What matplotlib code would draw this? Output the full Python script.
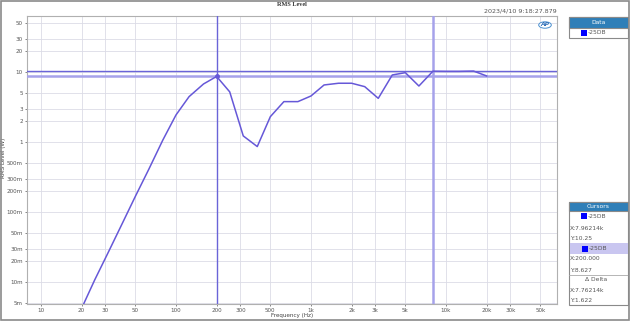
import matplotlib
matplotlib.use("Agg")
import matplotlib.pyplot as plt
from matplotlib.patches import Rectangle, Circle
from matplotlib.ticker import FixedLocator, NullLocator

# third-octave points of the -25DB trace
freq = [20, 25, 31.5, 40, 50, 63, 80, 100, 125, 160, 200, 250, 315, 400, 500,
        630, 800, 1000, 1250, 1600, 2000, 2500, 3150, 4000, 5000, 6300, 8000,
        10000, 12500, 16000, 20000]
power = [0.0042, 0.0107, 0.0265, 0.0685, 0.167, 0.41, 1.07, 2.43, 4.44, 6.74,
         8.627, 5.2, 1.22, 0.86, 2.3, 3.77, 3.77, 4.54, 6.52, 6.9, 6.9, 6.17,
         4.2, 9.06, 9.77, 6.3, 10.25, 10.2, 10.2, 10.3, 8.77]

xticks = [10, 20, 30, 50, 100, 200, 300, 500, 1000, 2000, 3000, 5000,
          10000, 20000, 30000, 50000]
xlabels = ["10", "20", "30", "50", "100", "200", "300", "500", "1k", "2k",
           "3k", "5k", "10k", "20k", "30k", "50k"]
yticks = [0.005, 0.01, 0.02, 0.03, 0.05, 0.1, 0.2, 0.3, 0.5, 1, 2, 3, 5,
          10, 20, 30, 50]
ylabels = ["5m", "10m", "20m", "30m", "50m", "100m", "200m", "300m", "500m",
           "1", "2", "3", "5", "10", "20", "30", "50"]

cursor1 = (7962.14, 10.25)
cursor2 = (200.0, 8.627)

W, H = 630, 321
fig = plt.figure(figsize=(W / 100, H / 100), dpi=100)
fig.patch.set_facecolor("white")


def fx(x):
    return x / W


def fy(y):
    return 1 - y / H


FS = 4.1

ax = fig.add_axes([fx(27), fy(304), fx(557) - fx(27), fy(16) - fy(304)])
ax.set_xscale("log")
ax.set_yscale("log")
ax.set_xlim(7.88, 66400)
ax.set_ylim(0.00485, 63)

ax.xaxis.set_major_locator(FixedLocator(xticks))
ax.xaxis.set_minor_locator(NullLocator())
ax.set_xticklabels(xlabels)
ax.yaxis.set_major_locator(FixedLocator(yticks))
ax.yaxis.set_minor_locator(NullLocator())
ax.set_yticklabels(ylabels)
ax.tick_params(labelsize=FS, colors="#555555", length=1.5, width=0.5, pad=1.5)
ax.grid(True, color="#dcdce6", linewidth=0.6)
for s in ax.spines.values():
    s.set_color("#b0b0b0")
    s.set_linewidth(0.8)

# cursors
ax.axvline(cursor2[0], color="#6a64d8", linewidth=1.0, zorder=3)
ax.axvline(cursor1[0], color="#a6a2ea", linewidth=1.8, zorder=3)
ax.axhline(cursor1[1], color="#6a64d8", linewidth=1.0, zorder=3)
ax.axhline(cursor2[1], color="#a6a2ea", linewidth=1.8, zorder=3)

ax.plot(freq, power, color="#6658d8", linewidth=1.1, zorder=4)
ax.plot([cursor2[0]], [cursor2[1]], "o", color="#6658d8", markersize=2.5, zorder=5)

fig.text(fx(292), fy(316), "Frequency (Hz)", fontsize=FS, color="#444444",
         ha="center", va="center")
fig.text(fx(4), fy(158), "RMS Level (W)", fontsize=FS, color="#444444",
         ha="center", va="center", rotation=90)

fig.text(fx(292), fy(4.5), "RMS Level", fontsize=4.5, fontweight="bold",
         family="Liberation Serif", ha="center", va="center", color="#333333")
fig.text(fx(557), fy(11), "2023/4/10 9:18:27.879", fontsize=4.6,
         ha="right", va="center", color="#555555")

# AP logo
fig.patches.append(Circle((fx(545), fy(25)), 0.010, transform=fig.transFigure,
                          facecolor="white", edgecolor="#4a90d0", linewidth=0.7,
                          zorder=10))
fig.text(fx(545), fy(25), "AP", fontsize=4.3, fontweight="bold", style="italic",
         color="#2f6fb8", ha="center", va="center", zorder=11)

head = "#2f7fb8"
edge = "#8a8a8a"


def box(x0, y0, x1, y1, face, ec=edge, lw=0.8):
    fig.patches.append(Rectangle((fx(x0), fy(y1)), fx(x1) - fx(x0), fy(y0) - fy(y1),
                                 transform=fig.transFigure, facecolor=face,
                                 edgecolor=ec, linewidth=lw, zorder=10))


def txt(x, y, s, ha="left", color="#555555", size=4.3):
    fig.text(fx(x), fy(y), s, fontsize=size, ha=ha, va="center", color=color,
             zorder=12)


def swatch(x, y):
    fig.patches.append(Rectangle((fx(x), fy(y + 3)), fx(6), fy(0) - fy(6),
                                 transform=fig.transFigure, facecolor="#0000ff",
                                 edgecolor="none", zorder=12))


# Data legend
box(569, 17, 628, 38, "white")
box(569, 17, 628, 28, head)
txt(598.5, 22.5, "Data", ha="center", color="white")
swatch(581, 32.5)
txt(588, 32.5, "-25DB")

# Cursors panel
box(569, 202, 628, 305, "white")
box(569, 202, 628, 211, head)
txt(598.5, 206.5, "Cursors", ha="center", color="white")
swatch(581, 216)
txt(588, 216, "-25DB")
txt(570, 228, "X:7.96214k")
txt(570, 238, "Y:10.25")
box(570, 243, 627.5, 254, "#c9c6f0", ec="none")
swatch(582, 248.5)
txt(589, 248.5, "-25DB")
txt(570, 259, "X:200.000")
txt(570, 270, "Y:8.627")
fig.lines.append(plt.Line2D([fx(569), fx(628)], [fy(275), fy(275)],
                            transform=fig.transFigure, color="#aaaaaa",
                            linewidth=0.6, zorder=11))
txt(596, 279.5, "\u0394 Delta", ha="center")
txt(570, 290, "X:7.76214k")
txt(570, 300, "Y:1.622")

# outer frame
fig.patches.append(Rectangle((0.001, 0.002), 0.997, 0.995, transform=fig.transFigure,
                             facecolor="none", edgecolor="#8a8a8a", linewidth=1.2,
                             zorder=20))

fig.savefig("out.png", dpi=100)
